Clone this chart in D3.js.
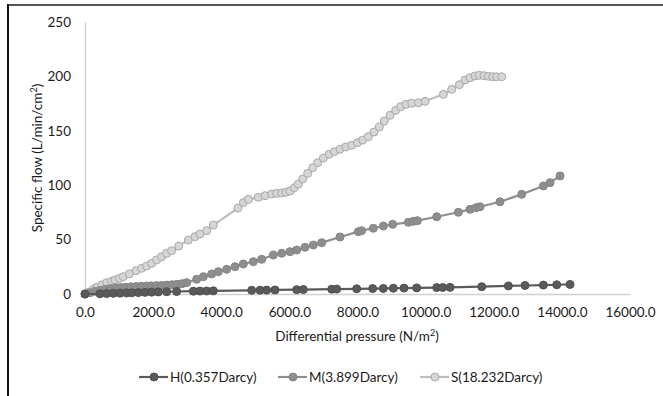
<!DOCTYPE html>
<html><head><meta charset="utf-8">
<script src="https://cdn.jsdelivr.net/npm/d3@7"></script>
<style>body{margin:0;background:#fff}svg{display:block}text{font-family:Lato,"Open Sans",sans-serif}</style>
</head><body><svg id="c" width="663" height="396"></svg>
<script>
const xTicks = [0,2000,4000,6000,8000,10000,12000,14000,16000];
const yTicks = [0,50,100,150,200,250];
const seriesNames = ["H(0.357Darcy)","M(3.899Darcy)","S(18.232Darcy)"];
const hX = [0,440,636,832,1028,1223,1370,1566,1762,1957,2153,2397,2691,3181,3376,3572,3768,4894,5138,5334,5578,6215,6409,7243,7390,7977,8446,8759,9052,9365,9738,10326,10502,10717,11647,12429,12918,13457,13849,14240];
const hY = [0,0.2,0.4,0.6,0.8,1.0,1.1,1.3,1.5,1.7,1.9,2.1,2.3,2.6,2.7,2.8,2.9,3.4,3.5,3.6,3.7,4.0,4.1,4.4,4.5,4.8,5.0,5.1,5.3,5.4,5.6,5.9,6.0,6.1,6.7,7.4,7.8,8.2,8.5,8.8];
const mX = [0,150,300,450,600,750,900,1050,1200,1350,1500,1650,1800,1950,2100,2250,2400,2550,2700,2850,2985,3278,3474,3719,3915,4160,4404,4649,4943,5187,5529,5774,6019,6215,6459,6704,6949,7487,8025,8122,8465,8759,9033,9492,9639,9757,10326,10961,11304,11480,11597,12184,12821,13457,13652,13946];
const mY = [0,1.2,2.4,3.4,4.3,5.0,5.5,6.0,6.3,6.6,6.9,7.1,7.3,7.5,7.7,7.9,8.2,8.5,8.9,9.5,10.4,13.5,15.9,18.4,20.5,22.7,25.1,27.6,29.7,31.9,35.8,37.4,38.9,40.4,42.9,45.0,47.2,52.4,57.3,58.2,60.4,62.5,64.0,65.9,66.8,67.4,71.0,75.1,77.8,79.3,80.2,84.8,91.6,99.3,102.3,108.5];
const sX = [0,100,244,343,489,636,783,881,1008,1126,1300,1497,1663,1810,1957,2104,2250,2397,2544,2750,3034,3229,3376,3572,3768,4490,4650,4795,5089,5285,5480,5627,5774,5901,6019,6146,6264,6391,6538,6685,6832,6998,7164,7321,7487,7653,7829,7996,8152,8318,8485,8641,8788,8955,9121,9268,9425,9591,9787,9983,10521,10766,10990,11157,11304,11451,11578,11715,11842,11970,12087,12234];
const sY = [0,1.5,4.3,6.2,8.3,10.4,11.7,12.9,14.4,15.9,18.5,21.4,23.6,25.7,28.2,31.3,34.3,37.4,39.8,44.0,49.6,52.7,55.1,58.2,63.4,79.0,84.0,87.0,88.9,90.4,91.9,92.5,92.8,93.5,94.7,97.7,101.0,105.7,110.9,116.1,120.7,125.0,128.4,130.8,133.0,135.1,136.7,139.1,141.5,144.6,148.9,153.5,159.0,164.2,168.8,172.2,174.3,175.3,175.8,177.1,183.5,188.1,192.4,196.7,198.8,200.4,201.0,200.6,200.1,199.7,199.7,199.7];

const svg = d3.select("#c");
// frame
svg.append("line").attr("x1",8).attr("x2",663).attr("y1",5).attr("y2",5).attr("stroke","#555").attr("stroke-width",2);
svg.append("line").attr("x1",8).attr("x2",8).attr("y1",4).attr("y2",396).attr("stroke","#111").attr("stroke-width",2);

const x = d3.scaleLinear().domain([0,16000]).range([85,630]);
const y = d3.scaleLinear().domain([0,250]).range([294,22]);

const xAxis = svg.append("g").attr("transform","translate(0,294)")
  .call(d3.axisBottom(x).tickValues(xTicks).tickFormat(d3.format(".1f")).tickSize(0).tickPadding(13));
xAxis.select(".domain").attr("stroke","#d0d0d0").attr("stroke-width",1.5);
const yAxis = svg.append("g").attr("transform","translate(85,0)")
  .call(d3.axisLeft(y).tickValues(yTicks).tickSize(0).tickPadding(14));
yAxis.select(".domain").attr("stroke","#d0d0d0").attr("stroke-width",1.5);
svg.selectAll(".tick text").attr("font-family","Lato").attr("font-size",13.5).attr("fill","#1a1a1a");

svg.append("text").attr("x",357).attr("y",341).attr("text-anchor","middle").attr("font-size",13.5).attr("fill","#1a1a1a")
  .html('Differential pressure (N/m<tspan baseline-shift="super" font-size="9">2</tspan>)');
svg.append("text").attr("transform","translate(42,158) rotate(-90)").attr("text-anchor","middle").attr("font-size",13.5).attr("fill","#1a1a1a")
  .html('Specific flow  (L/min/cm<tspan baseline-shift="super" font-size="9">2</tspan>)');

const styles = [
  {line:"#5a5a5a", fill:"#5a5a5a", stroke:"#505050"},
  {line:"#8e8e8e", fill:"#8e8e8e", stroke:"#858585"},
  {line:"#bdbdbd", fill:"#d6d6d6", stroke:"#a8a8a8"}
];
const data = [d3.zip(hX,hY), d3.zip(mX,mY), d3.zip(sX,sY)];
const line = d3.line().x(d=>x(d[0])).y(d=>y(d[1]));
[2,1,0].forEach(i=>{
  const g = svg.append("g");
  g.append("path").datum(data[i]).attr("d",line).attr("fill","none").attr("stroke",styles[i].line).attr("stroke-width",2.2);
  g.selectAll("circle").data(data[i]).join("circle").attr("cx",d=>x(d[0])).attr("cy",d=>y(d[1])).attr("r",4)
    .attr("fill",styles[i].fill).attr("stroke",styles[i].stroke).attr("stroke-width",1);
});

// legend
const legX = [139,278,420];
seriesNames.forEach((n,i)=>{
  const g = svg.append("g").attr("transform",`translate(${legX[i]},377)`);
  g.append("line").attr("x1",0).attr("x2",29).attr("stroke",styles[i].line).attr("stroke-width",2.2);
  g.append("circle").attr("cx",15).attr("r",4).attr("fill",styles[i].fill).attr("stroke",styles[i].stroke);
  g.append("text").attr("x",31).attr("y",4.5).attr("font-size",13.5).attr("fill","#1a1a1a").text(n);
});
</script></body></html>
